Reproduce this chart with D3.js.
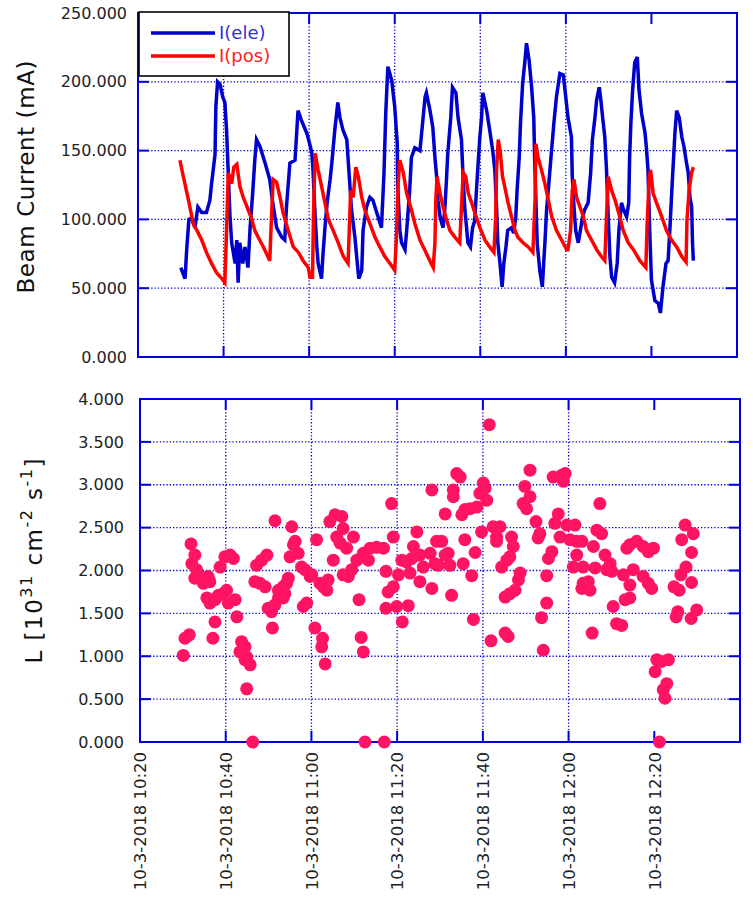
<!DOCTYPE html>
<html><head><meta charset="utf-8">
<script src="https://cdn.jsdelivr.net/npm/d3@7"></script>
<style>body{margin:0;background:#fff} svg{display:block}</style>
</head><body>
<svg id="c" width="753" height="898"></svg>
<script>
// ---- DATA (time = minutes after 10:00 on 10-3-2018) ----
const eleT = [30.0,31.0,31.4,31.9,32.5,33.3,34.0,34.9,36.0,36.8,37.2,38.0,38.2,38.6,39.2,39.8,40.3,40.7,41.0,41.5,41.9,42.7,43.1,43.4,43.8,44.5,45.0,45.7,46.2,46.8,47.3,47.7,48.5,49.7,50.8,51.5,52.4,53.6,54.3,54.7,55.5,56.7,57.4,58.2,59.4,59.7,60.6,60.9,61.4,61.8,62.1,62.9,63.2,63.7,64.2,64.9,65.3,66.0,66.7,67.2,67.9,68.8,69.5,69.9,70.7,71.2,71.6,72.3,72.6,73.4,74.2,74.9,76.1,76.9,77.5,77.9,78.4,79.3,80.0,80.6,80.7,81.2,81.6,82.4,82.8,83.5,83.9,84.7,85.9,87.1,87.4,88.2,88.9,89.4,89.8,90.1,90.6,90.9,91.3,91.7,92.1,92.4,93.1,93.5,94.3,94.8,95.6,95.9,96.4,96.8,97.1,97.7,98.2,98.7,99.1,99.4,99.9,100.3,100.6,101.5,102.2,102.9,103.4,103.8,104.1,104.6,105.1,105.5,106.0,106.4,107.3,107.8,108.3,108.6,109.1,109.4,109.9,110.4,110.8,111.4,112.0,112.5,112.7,113.0,113.3,113.9,114.5,115.1,115.5,116.1,116.6,117.2,117.8,118.6,119.4,119.8,120.5,121.3,121.5,121.9,122.3,122.9,123.4,123.9,124.4,125.2,125.8,126.2,126.8,127.2,127.8,128.1,128.6,129.1,129.5,129.9,130.3,130.7,131.4,132.0,132.4,133.0,133.5,134.2,134.7,134.9,135.2,135.6,136.1,136.7,137.1,137.7,138.5,138.8,139.2,139.6,140.0,140.8,141.6,142.1,142.7,143.4,143.9,144.3,144.9,145.5,145.9,146.5,147.1,147.6,148.2,148.6,149.0,149.4,149.6,149.8];
const eleV = [65,57,79,100,101,94,109,105,105,114,126,147,182,200,198,189,185,165,141,102,83,68,85,54,83,68,80,65,94,119,143,158,153,141,129,112,94,87,85,109,141,143,179,172,163,160,149,136,102,80,68,57,73,94,112,129,141,165,185,174,165,158,126,107,87,70,57,63,92,109,116,114,102,94,134,177,211,201,182,155,124,92,83,78,92,121,145,152,150,189,192,180,167,145,131,114,102,98,94,107,129,148,174,196,192,174,158,136,107,94,83,80,94,99,121,136,160,174,192,179,165,150,136,109,83,68,51,68,80,92,94,90,102,121,145,170,199,214,228,216,196,174,145,114,83,63,51,83,107,129,148,170,189,206,205,194,174,160,131,109,92,83,92,102,107,112,134,158,174,187,196,189,174,160,136,102,73,58,54,68,92,112,107,102,112,145,170,194,214,218,194,177,163,153,136,92,56,41,39,32,51,68,70,92,129,163,179,174,160,153,141,134,116,109,83,70];
const posT = [29.8,30.6,31.8,32.9,34.1,34.9,36.0,37.2,38.4,39.6,40.3,40.7,41.1,41.9,42.4,43.1,43.8,44.6,45.5,46.6,47.3,48.1,49.3,50.8,51.2,51.6,52.4,53.2,53.9,55.1,56.3,57.5,58.6,59.8,60.2,60.8,61.0,61.4,62.1,62.9,63.7,64.5,65.6,66.8,68.0,69.1,69.4,69.7,70.3,70.9,71.5,72.3,73.0,74.2,75.4,76.5,77.7,78.9,80.0,80.4,80.8,81.2,82.0,82.8,83.9,84.7,85.9,87.0,88.2,89.0,89.4,89.6,89.9,90.6,91.3,92.1,92.9,94.1,95.2,95.6,96.0,96.6,97.2,98.0,98.7,99.9,101.1,102.2,103.2,103.6,103.8,104.2,104.7,105.2,105.7,106.5,107.3,108.1,108.8,110.0,111.2,112.3,112.8,113.0,113.5,114.3,115.1,115.9,116.7,117.8,119.0,120.2,120.5,121.1,121.5,121.9,122.5,123.3,124.1,124.8,126.0,127.2,128.3,129.1,129.5,129.9,130.7,131.5,132.6,133.4,134.6,135.8,137.3,138.7,139.0,139.5,139.8,140.4,141.2,142.4,143.5,144.7,145.9,147.1,148.1,148.3,148.8,149.4,149.8];
const posV = [143,131,114,97,90,85,76,68,61,57,54,92,134,126,138,140,124,116,109,100,92,87,80,70,102,129,127,116,105,92,80,76,70,65,58,58,102,148,136,124,112,100,92,83,73,68,94,121,116,138,131,116,107,97,87,80,73,68,63,87,126,143,134,119,107,97,85,78,70,65,83,114,131,119,109,100,92,87,83,109,134,131,119,112,105,94,85,80,76,102,136,158,148,131,124,112,102,92,87,83,80,76,114,155,145,136,126,114,102,92,85,78,78,92,121,129,116,109,102,92,85,78,73,70,102,131,121,114,102,92,83,78,70,65,97,131,136,119,112,102,92,85,80,73,69,99,121,134,138];
const lumT = [30.1,30.5,31.5,31.9,32.8,32.1,33.2,32.8,34.0,34.8,35.9,36.3,35.6,36.3,37.5,38.3,39.4,40.2,40.6,42.2,37.5,37.0,38.7,39.8,41.0,41.8,42.6,43.7,43.3,44.5,44.9,45.7,44.5,44.9,46.3,47.2,48.4,49.6,46.8,48.0,49.2,51.5,49.9,50.7,51.5,52.3,52.3,53.4,54.2,54.6,53.8,53.4,50.9,55.4,56.2,55.8,55.0,56.9,57.7,58.5,60.1,59.7,58.1,58.9,61.2,60.8,62.6,62.4,63.2,62.0,62.8,63.9,63.6,64.3,65.5,67.1,67.4,65.9,66.7,68.2,65.1,69.8,67.4,68.6,69.4,70.6,72.1,73.7,75.2,76.8,73.3,71.1,71.6,72.1,72.5,77.0,78.7,79.1,77.4,77.9,79.1,80.3,77.4,79.9,82.6,81.2,81.1,82.2,83.8,84.6,85.3,86.1,87.7,88.8,89.2,83.0,85.3,88.1,88.1,83.4,101.5,93.9,94.7,93.1,93.1,100.1,100.5,99.3,100.9,98.6,97.0,95.8,95.1,91.2,90.4,89.6,91.2,91.9,92.3,95.8,98.2,95.4,97.4,92.7,97.8,99.7,102.4,104.0,103.2,103.2,106.7,107.1,106.3,105.6,104.4,108.7,108.3,107.5,106.3,105.2,101.9,105.2,105.9,111.0,109.8,111.0,109.4,110.2,112.4,112.9,113.3,116.1,115.3,114.9,114.9,113.7,114.1,116.4,118.4,119.2,118.8,117.6,116.8,118.0,119.6,121.5,120.3,121.9,123.1,121.9,121.1,123.4,123.4,124.6,123.1,125.0,125.8,126.6,127.7,127.3,126.2,128.5,129.7,130.1,128.9,125.5,132.8,135.1,134.3,134.3,133.2,130.4,131.2,132.4,133.6,134.3,135.9,137.4,138.6,139.8,137.4,138.6,139.4,140.6,141.7,143.3,140.2,142.9,142.1,142.5,141.2,147.2,149.1,146.4,148.7,147.4,146.2,144.6,145.8,148.7,145.5,145.1,148.6,149.9];
const lumV = [1.01,1.21,1.25,2.31,2.18,2.08,2.01,1.91,1.93,1.85,1.93,1.87,1.68,1.62,1.66,1.71,1.73,1.77,1.62,1.66,1.40,1.21,2.04,2.16,2.18,2.14,1.46,1.17,1.05,1.11,0.99,0.90,0.96,0.62,0,2.06,2.12,2.18,1.87,1.85,1.81,2.58,1.56,1.52,1.60,1.68,1.77,1.81,1.85,1.91,1.73,1.68,1.33,2.51,2.34,2.30,2.16,2.20,2.04,2.01,1.95,1.93,1.58,1.62,2.36,1.33,1.21,1.11,0.91,1.85,1.81,1.89,1.77,2.57,2.65,2.63,2.49,2.39,2.32,2.26,2.12,2.39,1.95,1.93,2.01,2.12,2.20,2.26,2.27,2.26,2.12,1.66,1.22,1.05,0,0,2.78,2.39,1.99,1.75,1.81,1.95,1.56,1.58,1.59,1.40,2.12,2.10,2.28,2.45,2.18,2.04,2.20,2.08,2.34,1.97,1.87,1.79,2.94,2.14,3.70,3.13,3.09,2.94,2.86,3.02,2.96,2.90,2.82,2.74,2.72,2.71,2.65,2.66,2.34,2.06,2.18,2.20,2.06,2.36,2.21,2.08,1.94,1.71,1.43,2.45,2.51,2.51,2.39,2.34,2.39,2.28,2.16,2.12,2.04,1.97,1.89,1.77,1.73,1.69,1.18,1.27,1.23,3.17,2.98,2.86,2.78,2.72,2.57,2.38,2.43,2.22,2.14,1.94,1.62,1.45,1.07,3.09,3.11,3.13,3.04,2.66,2.55,2.39,2.53,2.53,2.36,2.34,2.34,2.18,2.04,2.04,1.85,1.87,1.79,1.77,2.28,2.47,2.43,2.78,2.03,2.18,2.08,1.99,2.01,1.27,1.95,2.01,1.83,1.68,1.66,1.58,1.38,1.36,2.26,2.30,2.34,2.28,2.22,2.26,1.93,1.85,1.79,0.96,0.94,0.96,0.82,0.68,0.61,0.51,0,2.53,2.43,2.36,2.21,2.04,1.95,1.81,1.77,1.86,1.52,1.46,1.44,1.54];
const yTicksTop = [0,50,100,150,200,250];
const yTicksBot = [0,0.5,1,1.5,2,2.5,3,3.5,4];
const xTickMin = [20,40,60,80,100,120,140];   // 10:20 ... 12:40
const seriesNames = ["I(ele)","I(pos)"];

// ---- helpers ----
const t0 = new Date(2018,2,10,10,0,0).getTime();
const toDate = m => new Date(t0 + m*60000);
const BLUE = "#0000dd";
const FONT = "DejaVu Sans";
const svg = d3.select("#c");
const fmtTime = d3.timeFormat("%-d-%-m-%Y %H:%M");
const fmtY = d3.format(".3f");

function panel(L, R, T, B, yDomain, yTicks, pad) {
  const x = d3.scaleTime().domain([toDate(20), toDate(160)]).range([L, R]);
  const y = d3.scaleLinear().domain(yDomain).range([B, T]);
  const g = svg.append("g");
  const xt = xTickMin.map(toDate);
  g.selectAll(".gx").data(xt.slice(1, -1)).join("line")
    .attr("x1", d => x(d)).attr("x2", d => x(d)).attr("y1", T).attr("y2", B)
    .attr("stroke", BLUE).attr("stroke-width", 1.3).attr("stroke-dasharray", "1.3,2");
  g.selectAll(".gy").data(yTicks.slice(1, -1)).join("line")
    .attr("y1", d => y(d)).attr("y2", d => y(d)).attr("x1", L).attr("x2", R)
    .attr("stroke", BLUE).attr("stroke-width", 1.3).attr("stroke-dasharray", "1.3,2");
  const tl = 11;
  xt.forEach(d => {
    g.append("line").attr("x1", x(d)).attr("x2", x(d)).attr("y1", B).attr("y2", B - tl).attr("stroke", BLUE).attr("stroke-width", 2);
    g.append("line").attr("x1", x(d)).attr("x2", x(d)).attr("y1", T).attr("y2", T + tl).attr("stroke", BLUE).attr("stroke-width", 2);
  });
  yTicks.forEach(d => {
    g.append("line").attr("y1", y(d)).attr("y2", y(d)).attr("x1", L).attr("x2", L + tl).attr("stroke", BLUE).attr("stroke-width", 2);
    g.append("line").attr("y1", y(d)).attr("y2", y(d)).attr("x1", R).attr("x2", R - tl).attr("stroke", BLUE).attr("stroke-width", 2);
  });
  g.append("rect").attr("x", L).attr("y", T).attr("width", R - L).attr("height", B - T)
    .attr("fill", "none").attr("stroke", BLUE).attr("stroke-width", 2);
  const ya = svg.append("g").attr("transform", `translate(${L},0)`)
    .call(d3.axisLeft(y).tickValues(yTicks).tickFormat(fmtY).tickSize(0).tickPadding(pad));
  ya.select(".domain").remove();
  ya.selectAll("text").attr("font-family", FONT).attr("font-size", 16).attr("fill", "#222");
  return {x, y, g};
}

// ---- top panel ----
const pTop = panel(138, 737, 13, 357, [0, 250], yTicksTop, 11);
const lineTop = d3.line().x(d => pTop.x(toDate(d[0]))).y(d => pTop.y(d[1]));
svg.append("path").datum(eleT.map((t, i) => [t, eleV[i]]))
  .attr("d", lineTop).attr("fill", "none").attr("stroke", "#0000cc").attr("stroke-width", 3.5);
svg.append("path").datum(posT.map((t, i) => [t, posV[i]]))
  .attr("d", lineTop).attr("fill", "none").attr("stroke", "#ff0000").attr("stroke-width", 3.5);

// legend
const lg = svg.append("g");
lg.append("rect").attr("x", 139).attr("y", 12).attr("width", 150).attr("height", 64)
  .attr("fill", "#fff").attr("stroke", "#000").attr("stroke-width", 1.6);
const legColors = ["#0000cc", "#ff0000"], legText = ["#2f2fd8", "#ff2020"];
seriesNames.forEach((n, i) => {
  const yy = 33 + i * 23;
  lg.append("line").attr("x1", 151).attr("x2", 215).attr("y1", yy).attr("y2", yy)
    .attr("stroke", legColors[i]).attr("stroke-width", 3.3);
  lg.append("text").attr("x", 219).attr("y", yy + 6).text(n)
    .attr("font-family", FONT).attr("font-size", 18).attr("fill", legText[i]);
});

svg.append("text").attr("transform", "translate(34,177) rotate(-90)")
  .attr("text-anchor", "middle").attr("font-family", FONT).attr("font-size", 23).attr("fill", "#111")
  .attr("textLength", 233).attr("lengthAdjust", "spacing")
  .text("Beam Current (mA)");

// ---- bottom panel ----
const pBot = panel(140, 740, 399, 742, [0, 4], yTicksBot, 16);
svg.append("g").selectAll("circle").data(lumT.map((t, i) => [t, lumV[i]])).join("circle")
  .attr("cx", d => pBot.x(toDate(d[0]))).attr("cy", d => pBot.y(d[1])).attr("r", 6.5)
  .attr("fill", "#ff1464");

const xa = svg.append("g").attr("transform", "translate(0,742)")
  .call(d3.axisBottom(pBot.x).tickValues(xTickMin.map(toDate)).tickFormat(fmtTime).tickSize(0));
xa.select(".domain").remove();
xa.selectAll("text").attr("transform", "rotate(-90)").attr("x", -10).attr("y", 0).attr("dy", "0.35em")
  .style("text-anchor", "end").attr("font-family", FONT).attr("font-size", 16.5).attr("fill", "#222");

const lt = svg.append("text").attr("transform", "translate(42,561) rotate(-90)")
  .attr("text-anchor", "middle").attr("font-family", FONT).attr("font-size", 23).attr("fill", "#111")
  .attr("textLength", 205).attr("lengthAdjust", "spacing");
lt.append("tspan").text("L [10");
lt.append("tspan").attr("dy", -10).attr("font-size", 16).text("31");
lt.append("tspan").attr("dy", 10).text(" cm");
lt.append("tspan").attr("dy", -10).attr("font-size", 16).text("-2");
lt.append("tspan").attr("dy", 10).text(" s");
lt.append("tspan").attr("dy", -10).attr("font-size", 16).text("-1");
lt.append("tspan").attr("dy", 10).text("]");
</script>
</body></html>
